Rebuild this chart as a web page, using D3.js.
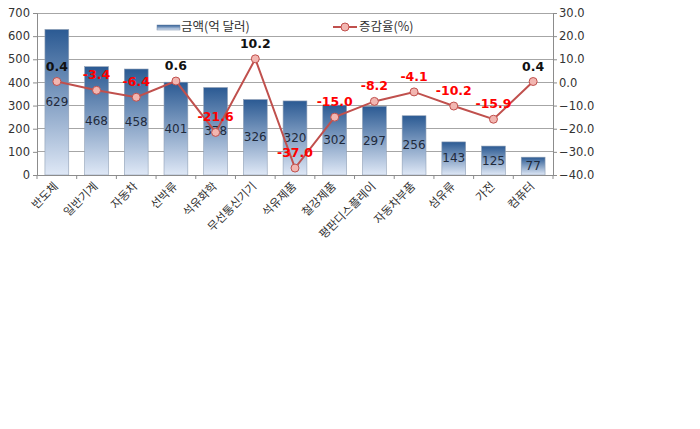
<!DOCTYPE html>
<html><head><meta charset="utf-8">
<script src="https://cdn.jsdelivr.net/npm/d3@7"></script>
<style>body{margin:0;background:#fff}svg{display:block;font-family:"Noto Sans CJK KR","Noto Sans",sans-serif}</style>
</head><body><svg id="c" width="700" height="429"></svg>
<script>
const categories = ["반도체","일반기계","자동차","선박류","석유화학","무선통신기기","석유제품","철강제품","평판디스플레이","자동차부품","섬유류","가전","컴퓨터"];
const amounts = [629,468,458,401,378,326,320,302,297,256,143,125,77];
const rates = [0.4,-3.4,-6.4,0.6,-21.6,10.2,-37.0,-15.0,-8.2,-4.1,-10.2,-15.9,0.4];
const leftTicks = [0,100,200,300,400,500,600,700];
const rightTicks = [-40,-30,-20,-10,0,10,20,30];
const legendLabels = ["금액(억 달러)","증감율(%)"];

const svg = d3.select("#c");
const L = 37, R = 553, T = 13, B = 175;
const x = d3.scaleBand().domain(categories).range([L, R]).paddingInner(0.4).paddingOuter(0.2);
const yL = d3.scaleLinear().domain([0,700]).range([B,T]);
const yR = d3.scaleLinear().domain([-40,30]).range([B,T]);

const defs = svg.append("defs");
const g = defs.append("linearGradient").attr("id","bg").attr("x1",0).attr("y1",0).attr("x2",0).attr("y2",1);
g.append("stop").attr("offset","0%").attr("stop-color","#2b5a93");
g.append("stop").attr("offset","100%").attr("stop-color","#dfe8f6");

// grid
svg.append("g").selectAll("line").data(leftTicks).join("line")
  .attr("x1",L).attr("x2",R).attr("y1",d=>yL(d)).attr("y2",d=>yL(d))
  .attr("stroke","#a6a6a6").attr("stroke-width",1).attr("shape-rendering","crispEdges");

// bars
svg.append("g").selectAll("rect").data(amounts).join("rect")
  .attr("x",(d,i)=>x(categories[i])).attr("width",x.bandwidth())
  .attr("y",d=>yL(d)).attr("height",d=>yL(0)-yL(d))
  .attr("fill","url(#bg)").attr("stroke","#8f9fb5").attr("stroke-width",0.6);

// bar labels
svg.append("g").selectAll("text").data(amounts).join("text")
  .attr("x",(d,i)=>x(categories[i])+x.bandwidth()/2)
  .attr("y",d=>(yL(d)+yL(0))/2+4)
  .attr("text-anchor","middle").attr("font-size",12).attr("fill","#1f2a3c")
  .attr("font-family","'DejaVu Sans',sans-serif")
  .text(d=>d);

// axes
const axL = d3.axisLeft(yL).tickValues(leftTicks).tickSize(4).tickFormat(d3.format("d"));
const gl = svg.append("g").attr("transform",`translate(${L},0)`).call(axL);
const axR = d3.axisRight(yR).tickValues(rightTicks).tickSize(4).tickPadding(2).tickFormat(d3.format(".1f"));
const gr = svg.append("g").attr("transform",`translate(${R},0)`).call(axR);
const axB = d3.axisBottom(x).tickSize(0).tickFormat("");
const gb = svg.append("g").attr("transform",`translate(0,${B})`).call(axB);
[gl,gr,gb].forEach(a=>{
  a.select(".domain").attr("stroke","#8c8c8c");
  a.selectAll(".tick line").attr("stroke","#8c8c8c");
  a.selectAll("text").attr("fill","#333").attr("font-size",11.5).attr("font-family","'DejaVu Sans',sans-serif");
});
// x boundary ticks
const bounds = d3.range(categories.length+1).map(i=>L + i*(R-L)/categories.length);
svg.append("g").selectAll("line").data(bounds).join("line")
  .attr("x1",d=>d).attr("x2",d=>d).attr("y1",B).attr("y2",B+4).attr("stroke","#8c8c8c");

// x labels
svg.append("g").selectAll("text").data(categories).join("text")
  .attr("transform",d=>`translate(${x(d)+x.bandwidth()/2+2},${B+12}) rotate(-45)`)
  .attr("text-anchor","end").attr("font-size",11.5).attr("fill","#333")
  .text(d=>d);

// line
const line = d3.line().x((d,i)=>x(categories[i])+x.bandwidth()/2).y(d=>yR(d));
svg.append("path").datum(rates).attr("d",line).attr("fill","none").attr("stroke","#c0504d").attr("stroke-width",2);
svg.append("g").selectAll("circle").data(rates).join("circle")
  .attr("cx",(d,i)=>x(categories[i])+x.bandwidth()/2).attr("cy",d=>yR(d)).attr("r",4)
  .attr("fill","#f2b6b1").attr("stroke","#c0504d").attr("stroke-width",1);
svg.append("g").selectAll("text").data(rates).join("text")
  .attr("x",(d,i)=>x(categories[i])+x.bandwidth()/2).attr("y",d=>yR(d)-11)
  .attr("text-anchor","middle").attr("font-size",12.5).attr("font-weight","bold")
  .attr("font-family","'DejaVu Sans',sans-serif")
  .attr("fill",d=>d<0?"#ff0000":"#111")
  .text(d=>d.toFixed(1));

// legend
const lg = svg.append("g");
lg.append("rect").attr("x",157).attr("y",25).attr("width",23).attr("height",5).attr("fill","url(#bg)").attr("stroke","#6f86a6").attr("stroke-width",0.5);
lg.append("text").attr("x",181).attr("y",31).attr("font-size",12.5).attr("fill","#333").text(legendLabels[0]);
lg.append("line").attr("x1",333).attr("x2",357).attr("y1",27).attr("y2",27).attr("stroke","#c0504d").attr("stroke-width",2);
lg.append("circle").attr("cx",345).attr("cy",27).attr("r",4).attr("fill","#f2b6b1").attr("stroke","#c0504d");
lg.append("text").attr("x",359).attr("y",31).attr("font-size",12.5).attr("fill","#333").text(legendLabels[1]);
</script></body></html>
